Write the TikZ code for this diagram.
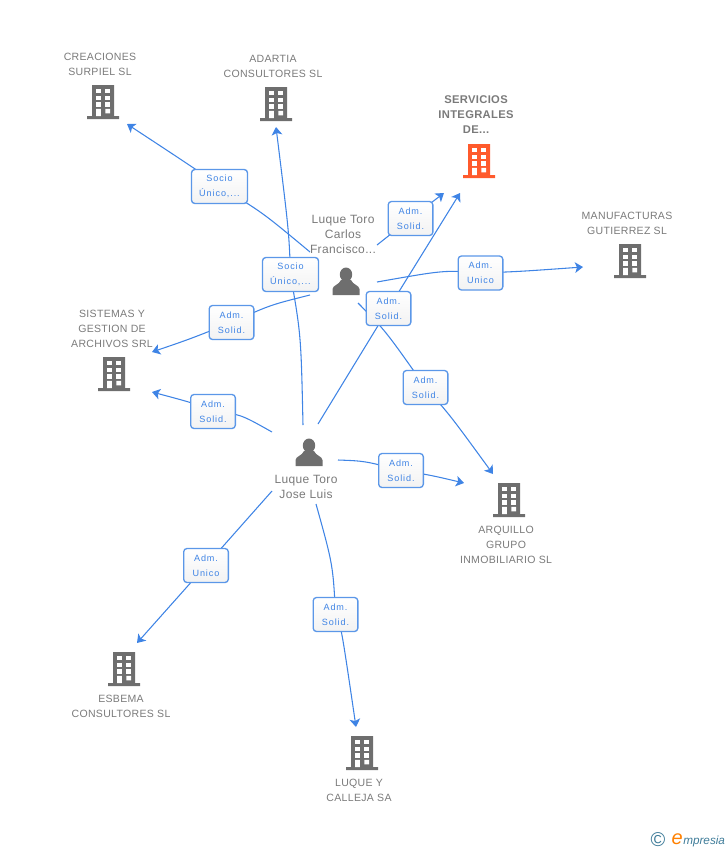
\documentclass[tikz,border=0pt]{standalone}
\usepackage{fontspec}
\setmainfont{Liberation Sans}
\newfontfamily\lblfont[LetterSpace=10]{Liberation Sans}
\newfontfamily\namefont[LetterSpace=3]{Liberation Sans}
\usetikzlibrary{backgrounds,arrows.meta}
\definecolor{lnkblue}{HTML}{3F84E5}
\definecolor{boxblue}{HTML}{5B97E8}
\definecolor{icongray}{HTML}{6E6E6E}
\definecolor{txtgray}{HTML}{7A7A7A}
\definecolor{hotorange}{HTML}{FF5A2C}
\definecolor{logoteal}{HTML}{3F7C99}
\tikzset{
	lnk/.style={draw=lnkblue,line width=0.8pt,-{Stealth[length=6pt,width=8pt,inset=1.5pt]}},
	relbox/.style={draw=boxblue,line width=1pt,rounded corners=2.5pt,top color=white,bottom color=white!95!black,text=lnkblue,minimum width=33.5pt,minimum height=25.5pt,inner sep=0pt,align=center,font=\lblfont\fontsize{6.8}{11.25}\selectfont},
	relwide/.style={relbox,minimum width=42pt},
	txtlbl/.style={text=txtgray,align=center,inner sep=0pt,font=\namefont\fontsize{7.9}{11.25}\selectfont},
	bldg/.pic={
		\fill[pic actions] (-11,-17)rectangle(11,14)(-16,14)rectangle(16,17);
		\foreach \x in {-7,2.3}{
			\foreach \y in {-13.3,-6.3,0.2}{
				\fill[white] (\x,\y)rectangle++(4.9,4.4);
			};
		};
		\fill[white] (-7,6.9)rectangle++(4.9,7.1)(2.3,6.9)rectangle++(4.9,4.4);
	},
	person/.pic={
		\fill[icongray] (0,-7.5)ellipse(6.2 and 7);
		\fill[icongray] (-13.5,13)--(-13.5,7)..controls(-13,3)and(-7,3)..(-5,-2)--(5,-2)..controls(7,3)and(13,3)..(13.5,7)--(13.5,13)--cycle;
	}
}
\begin{document}
\begin{tikzpicture}[x=0.75pt,y=-0.75pt]
	\useasboundingbox (0,0)rectangle(728,850);
	% companies
	\pic[fill=icongray] at (103,102) {bldg};
	\pic[fill=icongray] at (276,104) {bldg};
	\pic[fill=hotorange] at (479,161) {bldg};
	\pic[fill=icongray] at (630,261) {bldg};
	\pic[fill=icongray] at (114,374) {bldg};
	\pic[fill=icongray] at (509,500) {bldg};
	\pic[fill=icongray] at (124,669) {bldg};
	\pic[fill=icongray] at (362,753) {bldg};
	\node[txtlbl] (creaciones) at (100,64) {CREACIONES\\SURPIEL SL};
	\node[txtlbl] (adartia) at (273,66) {ADARTIA\\CONSULTORES SL};
	\node[txtlbl,font=\namefont\bfseries\fontsize{8.4}{11.25}\selectfont] (servicios) at (476,115) {SERVICIOS\\INTEGRALES\\DE...};
	\node[txtlbl] (manufacturas) at (627,223) {MANUFACTURAS\\GUTIERREZ SL};
	\node[txtlbl] (sistemas) at (112,329) {SISTEMAS Y\\GESTION DE\\ARCHIVOS SRL};
	\node[txtlbl] (arquillo) at (506,545) {ARQUILLO\\GRUPO\\INMOBILIARIO SL};
	\node[txtlbl] (esbema) at (121,706) {ESBEMA\\CONSULTORES SL};
	\node[txtlbl] (luque) at (359,790) {LUQUE Y\\CALLEJA SA};
	% people
	\pic at (346,282) {person};
	\pic at (309,453) {person};
	\node[txtlbl,font=\namefont\fontsize{9}{11.25}\selectfont] (carlos) at (343,234) {Luque Toro\\Carlos\\Francisco...};
	\node[txtlbl,font=\namefont\fontsize{9}{11.25}\selectfont] (jose) at (306,487) {Luque Toro\\Jose Luis};
	% relation boxes
	\node[relwide] (b1) at (219.5,186.5) {Socio\\Único,...};
	\node[relwide] (b2) at (290.5,274.5) {Socio\\Único,...};
	\node[relbox] (b3) at (231.5,322.5) {Adm.\\Solid.};
	\node[relbox] (b4) at (410.5,218.5) {Adm.\\Solid.};
	\node[relbox] (b5) at (480.5,273) {Adm.\\Unico};
	\node[relbox] (b6) at (388.5,308.5) {Adm.\\Solid.};
	\node[relbox] (b7) at (425.5,387.5) {Adm.\\Solid.};
	\node[relbox] (b8) at (401,470.5) {Adm.\\Solid.};
	\node[relbox] (b9) at (213,411.5) {Adm.\\Solid.};
	\node[relbox] (b10) at (206,565.5) {Adm.\\Unico};
	\node[relbox] (b11) at (335.5,614.5) {Adm.\\Solid.};
	% free ends
	\coordinate (s1) at (310,252);\coordinate (t1) at (127,124);
	\coordinate (s2) at (303,425);\coordinate (t2) at (276,127);
	\coordinate (s3) at (310,295);\coordinate (t3) at (152,352);
	\coordinate (s4) at (377,245);\coordinate (t4) at (444,193);
	\coordinate (s5) at (377,282);\coordinate (t5) at (583,267);
	\coordinate (s6) at (318,424);\coordinate (t6) at (460,193);
	\coordinate (s7) at (358,303);\coordinate (t7) at (493,474);
	\coordinate (s8) at (338,460);\coordinate (t8) at (464,483);
	\coordinate (s9) at (272,432);\coordinate (t9) at (152,392);
	\coordinate (s10) at (272,491);\coordinate (t10) at (137,643);
	\coordinate (s11) at (316,504);\coordinate (t11) at (356,727);
	\begin{scope}[on background layer]
		\draw[lnk] (s1)..controls(262,212)..(b1.center)..controls(200,172)..(t1);
		\draw[lnk] (s2)..controls(301,335)..(b2.center)..controls(289,232)..(t2);
		\draw[lnk] (s3)..controls(270,305)..(b3.center)..controls(190,339)..(t3);
		\draw[lnk] (s4)--(b4.center)--(t4);
		\draw[lnk] (s5)..controls(445,270)..(b5.center)..controls(520,271.5)..(t5);
		\draw[lnk] (s6)--(b6.center)--(t6);
		\draw[lnk] (s7)..controls(385,330)..(b7.center)..controls(450,415)..(t7);
		\draw[lnk] (s8)..controls(365,461)..(b8.center)..controls(430,475)..(t8);
		\draw[lnk] (s9)..controls(240,414)..(b9.center)..controls(195,403.5)..(t9);
		\draw[lnk] (s10)--(b10.center)--(t10);
		\draw[lnk] (s11)..controls(333,565)..(b11.center)..controls(341,625)..(t11);
	\end{scope}
	% logo
	\node[text=logoteal,inner sep=0pt,font=\fontsize{15}{15}\selectfont] (copyr) at (658,840) {\textcopyright};
	\node[text=logoteal,inner sep=0pt,anchor=base west,font=\itshape\fontsize{8.8}{9}\selectfont] (logo) at (683,844) {mpresia};
	\node[text=orange,inner sep=0pt,anchor=base east,font=\itshape\fontsize{15}{15}\selectfont] (logoe) at (logo.base west) {e};
\end{tikzpicture}
\end{document}
